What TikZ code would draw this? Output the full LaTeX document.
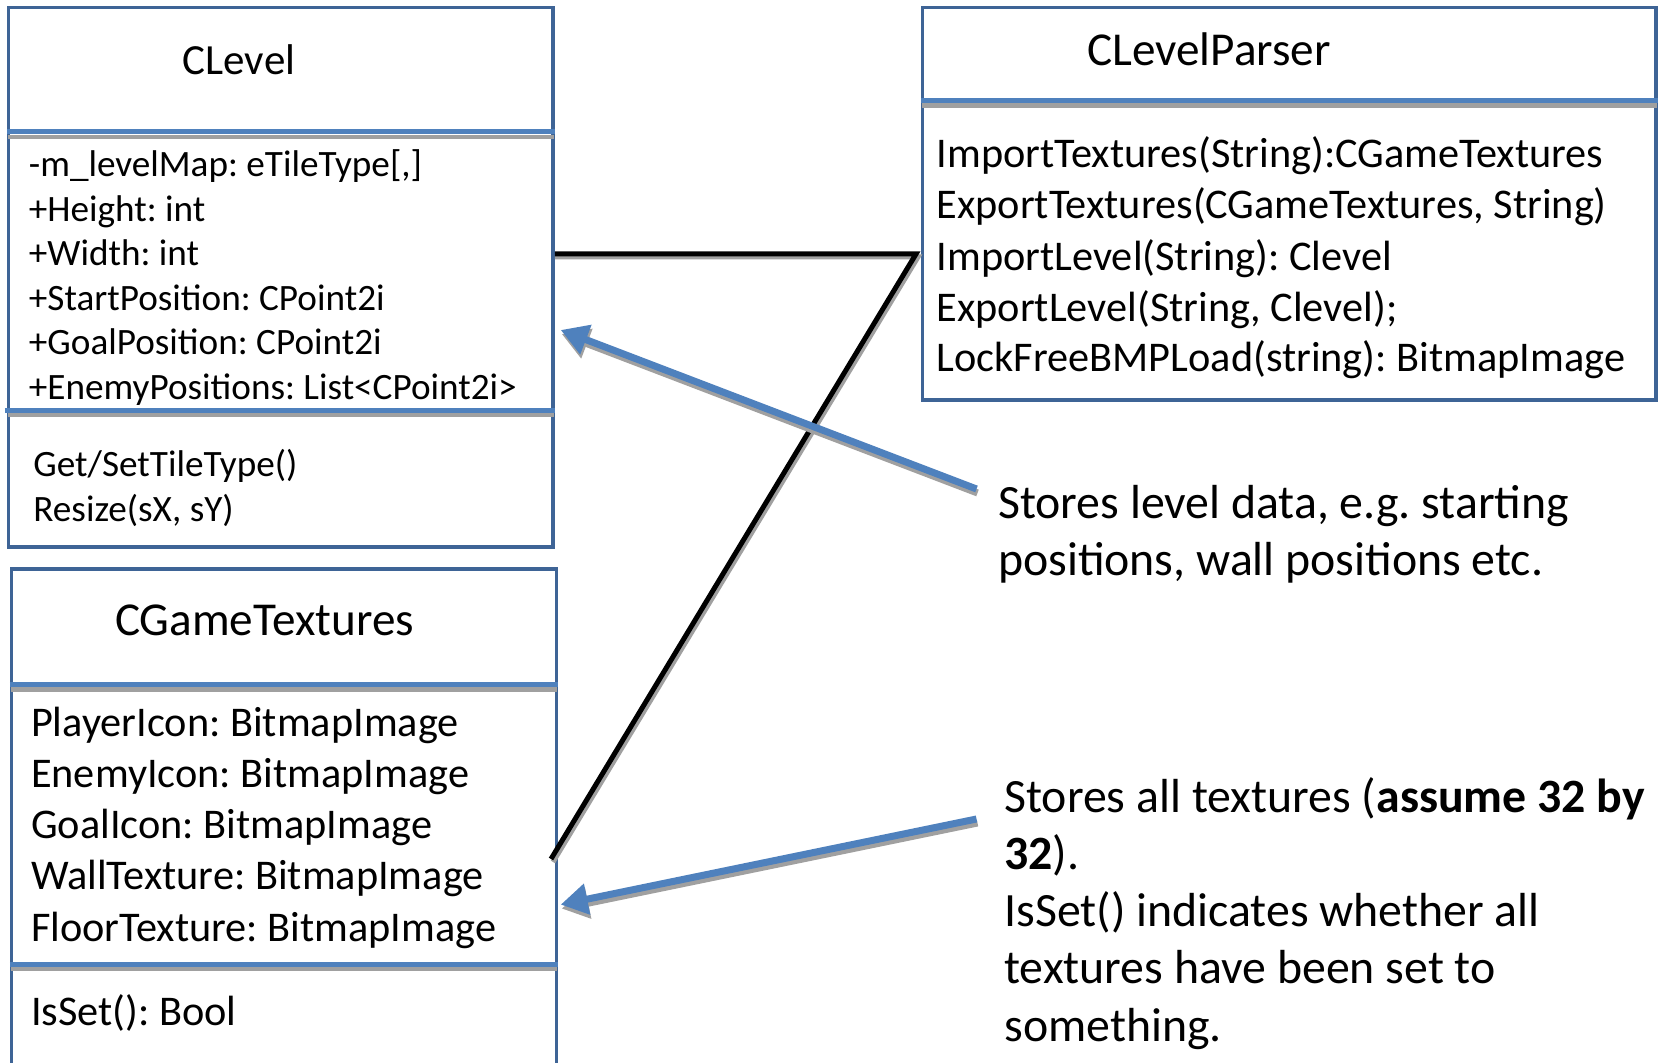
\documentclass[tikz,border=0pt]{standalone}
\usepackage{fontspec}
\setmainfont{Carlito}
\usetikzlibrary{arrows.meta,calc}
\definecolor{boxc}{RGB}{62,100,150}
\definecolor{sepc}{RGB}{79,129,189}
\definecolor{shadc}{RGB}{160,160,160}
\frenchspacing
\begin{document}
\begin{tikzpicture}[x=0.5pt,y=-0.5pt,
  umlbox/.style={draw=boxc,line width=1.75pt,fill=white,inner sep=0pt,rectangle},
  sepblue/.style={draw=sepc,line width=2.5pt},
  sepshade/.style={draw=shadc,line width=2.2pt},
  ttl/.style={inner sep=0pt,text height=0.64em,text depth=0pt,font=\fontsize{23.6pt}{28pt}\selectfont},
  txtS/.style={anchor=west,inner sep=0pt,text height=0.64em,text depth=0pt,font=\fontsize{18.6pt}{22pt}\selectfont},
  txtM/.style={anchor=west,inner sep=0pt,text height=0.64em,text depth=0pt,font=\fontsize{21.15pt}{25pt}\selectfont},
  txtL/.style={anchor=west,inner sep=0pt,text height=0.64em,text depth=0pt,font=\fontsize{23.9pt}{28pt}\selectfont},
  conn/.style={draw=black,line width=2.5pt,line join=miter},
  connshade/.style={draw=shadc,line width=2.5pt,line join=miter},
  arr/.style={draw=sepc,line width=3.5pt,-{Triangle[length=13.5pt,width=15pt]}},
  arrshade/.style={draw=shadc,line width=3.5pt,-{Triangle[length=13.5pt,width=15pt]}},
]
\clip (0,0) rectangle (1659,1063);
\fill[white] (0,0) rectangle (1659,1063);

% ---- boxes
\node[umlbox,minimum width=272.25pt,minimum height=269.8pt] (clevel) at (280.75,277.2) {};
\node[umlbox,minimum width=272.45pt,minimum height=258pt] (cgt) at (284.05,827) {};
\node[umlbox,minimum width=366.6pt,minimum height=196.3pt] (clp) at (1289.2,203.7) {};

% ---- separators
\draw[sepshade] ($(clevel.west |- 0,137)+(1,0)$) -- ($(clevel.east |- 0,137)+(-1,0)$);
\draw[sepblue] (clevel.west |- 0,132) -- (clevel.east |- 0,132);
\draw[sepshade] ($(clevel.west |- 0,415)+(1,0)$) -- ($(clevel.east |- 0,415)+(-1,0)$);
\draw[sepblue] ($(clevel.west |- 0,410.5)+(-2,0)$) -- (clevel.east |- 0,410.5);
\draw[sepshade] ($(cgt.west |- 0,689.5)+(1,0)$) -- ($(cgt.east |- 0,689.5)+(-1,0)$);
\draw[sepblue] (cgt.west |- 0,684.5) -- (cgt.east |- 0,684.5);
\draw[sepshade] ($(cgt.west |- 0,969)+(1,0)$) -- ($(cgt.east |- 0,969)+(-1,0)$);
\draw[sepblue] (cgt.west |- 0,964) -- (cgt.east |- 0,964);
\draw[sepshade] ($(clp.west |- 0,105.5)+(1,0)$) -- ($(clp.east |- 0,105.5)+(-1,0)$);
\draw[sepblue] (clp.west |- 0,100.5) -- (clp.east |- 0,100.5);

% ---- CLevel
\node[ttl,font=\fontsize{21.5pt}{26pt}\selectfont] (clt) at (239,68) {CLevel};
\node[txtS] (cla1) at (28.5,170.5) {-m\_levelMap: eTileType[,]};
\node[txtS] (cla2) at (28.5,215) {+Height: int};
\node[txtS] (cla3) at (28.5,259.5) {+Width: int};
\node[txtS] (cla4) at (28.5,304) {+StartPosition: CPoint2i};
\node[txtS] (cla5) at (28.5,348.5) {+GoalPosition: CPoint2i};
\node[txtS] (cla6) at (28.5,393) {+EnemyPositions: List<CPoint2i>};
\node[txtS] (clm1) at (33,470) {Get/SetTileType()};
\node[txtS] (clm2) at (33,515.5) {Resize(sX, sY)};

% ---- CGameTextures
\node[ttl] (cgtt) at (264.5,629) {CGameTextures};
\node[txtM] (cga1) at (30.7,729.6) {PlayerIcon: BitmapImage};
\node[txtM] (cga2) at (30.7,781.5) {EnemyIcon: BitmapImage};
\node[txtM] (cga3) at (30.7,832.3) {GoalIcon: BitmapImage};
\node[txtM] (cga4) at (30.7,883) {WallTexture: BitmapImage};
\node[txtM] (cga5) at (30.7,935) {FloorTexture: BitmapImage};
\node[txtM] (cgm1) at (30.7,1019.5) {IsSet(): Bool};

% ---- CLevelParser
\node[ttl] (clpt) at (1209,59) {CLevelParser};
\node[txtM] (clpm1) at (936.3,161.4) {ImportTextures(String):CGameTextures};
\node[txtM] (clpm2) at (936.3,212.2) {ExportTextures(CGameTextures, String)};
\node[txtM] (clpm3) at (936.3,264) {ImportLevel(String): Clevel};
\node[txtM] (clpm4) at (936.3,314.8) {ExportLevel(String, Clevel);};
\node[txtM] (clpm5) at (936.3,365.6) {LockFreeBMPLoad(string): BitmapImage};

% ---- notes
\node[txtL] (n1a) at (997.7,512.1) {Stores level data, e.g. starting};
\node[txtL] (n1b) at (997.7,569.2) {positions, wall positions etc.};
\node[txtL] (n2a) at (1004,806.2) {Stores all textures (\textbf{assume 32 by}};
\node[txtL] (n2b) at (1004,863.4) {\textbf{32}).};
\node[txtL] (n2c) at (1004,920.5) {IsSet() indicates whether all};
\node[txtL] (n2d) at (1004,977.5) {textures have been set to};
\node[txtL] (n2e) at (1004,1035.5) {something.};

% ---- black association connector
\coordinate (jn) at (916,254);
\coordinate (cgtend) at (551,859);
\draw[connshade] ($(clevel.east |- jn)+(0,3)$) -- ($(jn)+(2,3)$) -- ($(cgtend)+(2,3)$);
\draw[conn] (clevel.east |- jn) -- (jn) -- (cgtend);

% ---- note arrows
\coordinate (a1s) at (976.5,489);
\coordinate (a1t) at (560.7,330);
\coordinate (a2s) at (976.5,819);
\coordinate (a2t) at (560.7,904.6);
\draw[arrshade] ($(a1s)+(1,4)$) -- ($(a1t)+(1,4)$);
\draw[arr] (a1s) -- (a1t);
\draw[arrshade] ($(a2s)+(1,4)$) -- ($(a2t)+(1,4)$);
\draw[arr] (a2s) -- (a2t);
\end{tikzpicture}
\end{document}
